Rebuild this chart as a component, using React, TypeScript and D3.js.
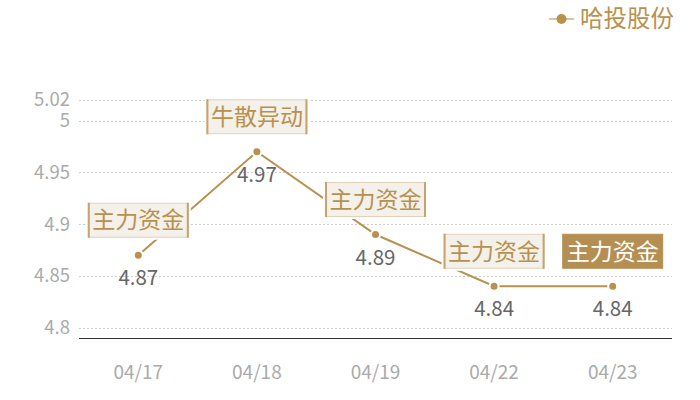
import React, { useEffect, useRef } from "react";
import * as d3 from "d3";

const dates = ["04/17", "04/18", "04/19", "04/22", "04/23"];
const prices = [4.87, 4.97, 4.89, 4.84, 4.84];
const tags = ["主力资金", "牛散异动", "主力资金", "主力资金", "主力资金"];
const yTicks = [4.8, 4.85, 4.9, 4.95, 5, 5.02];
const seriesName = "哈投股份";

const GOLD = "#b8914f";
const FONT = "'Noto Sans CJK SC', 'Noto Sans', sans-serif";

export default function App() {
  const svgRef = useRef<SVGSVGElement>(null);
  const width = 700;
  const height = 400;
  const margin = { top: 100, right: 28, bottom: 62, left: 79 };

  useEffect(() => {
    if (!svgRef.current) return;
    const svg = d3.select(svgRef.current);
    svg.selectAll("*").remove();

    const x = d3.scaleBand().domain(dates).range([margin.left, width - margin.right]);
    const y = d3.scaleLinear().domain([4.79, 5.02]).range([height - margin.bottom, margin.top]);
    const cx = (d: string) => (x(d) || 0) + x.bandwidth() / 2;

    const g = svg.append("g");

    // grid lines
    g.append("g")
      .selectAll("line")
      .data(yTicks)
      .enter().append("line")
      .attr("x1", margin.left).attr("x2", width - margin.right)
      .attr("y1", d => Math.round(y(d)) + 0.5).attr("y2", d => Math.round(y(d)) + 0.5)
      .attr("stroke", "#ccc").attr("stroke-dasharray", "2,2");

    // y tick labels
    g.append("g")
      .selectAll("text")
      .data(yTicks)
      .enter().append("text")
      .attr("x", margin.left - 9).attr("y", d => y(d))
      .attr("dy", "0.35em").attr("text-anchor", "end")
      .attr("font-family", FONT).attr("font-size", 18.5).attr("fill", "#aaa")
      .text(d => String(d));

    // x axis line
    g.append("line")
      .attr("x1", margin.left).attr("x2", width - margin.right)
      .attr("y1", height - margin.bottom + 0.5).attr("y2", height - margin.bottom + 0.5)
      .attr("stroke", "#333").attr("stroke-width", 1);

    g.append("g")
      .selectAll("text")
      .data(dates)
      .enter().append("text")
      .attr("x", d => cx(d)).attr("y", height - margin.bottom + 34)
      .attr("dy", "0.35em").attr("text-anchor", "middle")
      .attr("font-family", FONT).attr("font-size", 19).attr("fill", "#aaa")
      .text(d => d);

    const pts = dates.map((d, i) => ({ d, v: prices[i], tag: tags[i], i }));

    // line
    const line = d3.line<typeof pts[number]>().x(p => cx(p.d)).y(p => y(p.v));
    g.append("path").datum(pts)
      .attr("d", line)
      .attr("fill", "none").attr("stroke", GOLD).attr("stroke-width", 2);

    // dots
    g.append("g")
      .selectAll("circle")
      .data(pts)
      .enter().append("circle")
      .attr("cx", p => cx(p.d)).attr("cy", p => y(p.v)).attr("r", 4.5)
      .attr("fill", GOLD).attr("stroke", "#fff").attr("stroke-width", 2);

    // value labels
    g.append("g")
      .selectAll("text")
      .data(pts)
      .enter().append("text")
      .attr("x", p => cx(p.d)).attr("y", p => y(p.v) + 23)
      .attr("dy", "0.35em").attr("text-anchor", "middle")
      .attr("font-family", FONT).attr("font-size", 20.5).attr("fill", "#666")
      .text(p => p.v.toFixed(2));

    // tag boxes
    const bw = 101, bh = 35;
    const last = pts.length - 1;
    const tg = g.append("g")
      .selectAll("g")
      .data(pts)
      .enter().append("g")
      .attr("transform", p => `translate(${cx(p.d)},${y(p.v) - 35})`);
    tg.append("rect")
      .attr("x", -bw / 2 - 2).attr("y", -bh / 2 - 2).attr("width", bw + 4).attr("height", bh + 4)
      .attr("fill", "#fff");
    tg.append("rect")
      .attr("x", -bw / 2 + 0.5).attr("y", -bh / 2 + 0.5).attr("width", bw - 1).attr("height", bh - 1)
      .attr("fill", p => (p.i === last ? "#b58f52" : "#f4f0ea"))
      .attr("stroke", p => (p.i === last ? "#b58f52" : "#e2d2bb"))
      .attr("stroke-width", 1);
    tg.filter(p => p.i !== last).append("line")
      .attr("x1", -bw / 2 + 1).attr("x2", -bw / 2 + 1).attr("y1", -bh / 2).attr("y2", bh / 2)
      .attr("stroke", "#c8a36c").attr("stroke-width", 2);
    tg.filter(p => p.i !== last).append("line")
      .attr("x1", bw / 2 - 1).attr("x2", bw / 2 - 1).attr("y1", -bh / 2).attr("y2", bh / 2)
      .attr("stroke", "#c8a36c").attr("stroke-width", 2);
    tg.append("text")
      .attr("x", 0).attr("y", 0).attr("dy", "0.36em").attr("text-anchor", "middle")
      .attr("font-family", FONT).attr("font-size", 23)
      .attr("fill", p => (p.i === last ? "#fff" : GOLD))
      .text(p => p.tag);

    // legend
    const lg = svg.append("g").attr("transform", "translate(549,19)");
    lg.append("line").attr("x1", 0).attr("x2", 25).attr("y1", 0).attr("y2", 0)
      .attr("stroke", "#dcc49e").attr("stroke-width", 2);
    lg.append("circle").attr("cx", 12.5).attr("cy", 0).attr("r", 5).attr("fill", GOLD);
    lg.append("text").attr("x", 31).attr("y", 0).attr("dy", "0.36em")
      .attr("font-family", FONT).attr("font-size", 23.5).attr("fill", GOLD)
      .text(seriesName);
  }, []);

  return (
    <svg ref={svgRef} width={width} height={height} viewBox={`0 0 ${width} ${height}`}
      style={{ position: "absolute", left: 0, top: 0, background: "#fff" }} />
  );
}
